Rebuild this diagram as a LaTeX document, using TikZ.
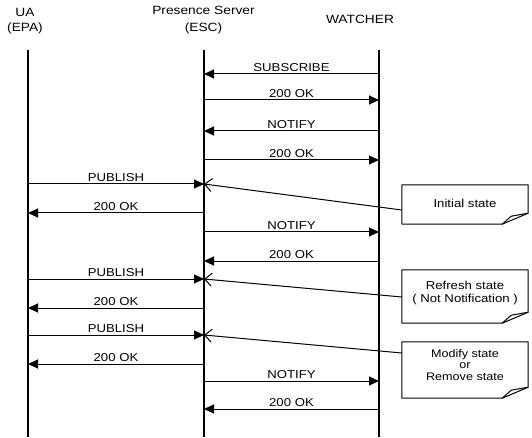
\documentclass[tikz,border=0pt]{standalone}
\usepackage{fontspec}
\setmainfont{Liberation Sans}[FakeStretch=1.15]
\usetikzlibrary{arrows.meta}

\tikzset{
  lifeline/.style={line width=2bp},
  msg/.style={line width=1bp, -{Triangle[length=10bp,width=9bp]}},
  lbl/.style={above, inner sep=1.5bp, font=\fontsize{11.5}{12}\selectfont},
  head/.style={font=\fontsize{12}{15.5}\selectfont, align=center, inner sep=0pt},
  notebox/.style={line width=1bp, line join=round},
  notetxt/.style={font=\fontsize{11.5}{12.5}\selectfont, align=center, inner sep=0pt},
  notelink/.style={line width=1bp, -{Straight Barb[length=7bp,width=13bp]}},
}

\begin{document}
\begin{tikzpicture}[x=1bp,y=-1bp]
\useasboundingbox (0,0) rectangle (532,438);

% heads
\node[head] (ua) at (25,21) {UA\\(EPA)};
\node[head] (esc) at (203.5,20) {Presence Server\\[2bp](ESC)};
\node[head] (wat) at (360,19.5) {WATCHER};

\coordinate (uatop) at (28,50);
\coordinate (uabot) at (28,437);
\coordinate (estop) at (204,50);
\coordinate (esbot) at (204,437);
\coordinate (watop) at (379,50);
\coordinate (wabot) at (379,437);

\draw[lifeline] (uatop) -- (uabot);
\draw[lifeline] (estop) -- (esbot);
\draw[lifeline] (watop) -- (wabot);

% one row of points per message
\foreach \r/\y in {1/74,2/100,3/131,4/160,5/184,6/213,7/232,8/261,9/279,10/308,11/335,12/364,13/381,14/409}{
  \coordinate (ua\r) at (28,\y);
  \coordinate (es\r) at (204,\y);
  \coordinate (wa\r) at (379,\y);
}

\draw[msg] (wa1) -- node[lbl]{SUBSCRIBE} (es1);
\draw[msg] (es2) -- node[lbl]{200 OK} (wa2);
\draw[msg] (wa3) -- node[lbl]{NOTIFY} (es3);
\draw[msg] (es4) -- node[lbl]{200 OK} (wa4);
\draw[msg] (ua5) -- node[lbl]{PUBLISH} (es5);
\draw[msg] (es6) -- node[lbl]{200 OK} (ua6);
\draw[msg] (es7) -- node[lbl]{NOTIFY} (wa7);
\draw[msg] (wa8) -- node[lbl]{200 OK} (es8);
\draw[msg] (ua9) -- node[lbl]{PUBLISH} (es9);
\draw[msg] (es10) -- node[lbl]{200 OK} (ua10);
\draw[msg] (ua11) -- node[lbl]{PUBLISH} (es11);
\draw[msg] (es12) -- node[lbl]{200 OK} (ua12);
\draw[msg] (es13) -- node[lbl]{NOTIFY} (wa13);
\draw[msg] (wa14) -- node[lbl]{200 OK} (es14);

% notes
\node[minimum width=126bp, minimum height=39bp, inner sep=0pt] (init) at (465,204.5) {};
\node[minimum width=126bp, minimum height=53bp, inner sep=0pt] (refr) at (465,296.5) {};
\node[minimum width=126bp, minimum height=56bp, inner sep=0pt] (modi) at (465,370) {};

\foreach \n in {init,refr,modi}{
  \draw[notebox] (\n.north west) -- (\n.north east) -- ([yshift=11bp]\n.south east)
    -- ([xshift=-26bp]\n.south east) -- (\n.south west) -- cycle;
  \draw[notebox] ([xshift=-26bp]\n.south east) -- ([xshift=-17bp,yshift=8bp]\n.south east)
    -- ([yshift=11bp]\n.south east);
}

\node[notetxt] (inittxt) at (465,203.5) {Initial state};
\node[notetxt] (refrtxt) at (465,293) {Refresh state\\( Not Notification )};
\node[notetxt, font=\fontsize{11}{11.5}\selectfont] (moditxt) at (465,365) {Modify state\\or\\Remove state};

\coordinate (initin) at ([yshift=-5.5bp]init.west);
\coordinate (refrin) at ([yshift=-0.5bp]refr.west);
\coordinate (modiin) at ([yshift=17bp]modi.west);

\draw[notelink] (initin) -- (es5);
\draw[notelink] (refrin) -- (es9);
\draw[notelink] (modiin) -- (es11);

\end{tikzpicture}
\end{document}
